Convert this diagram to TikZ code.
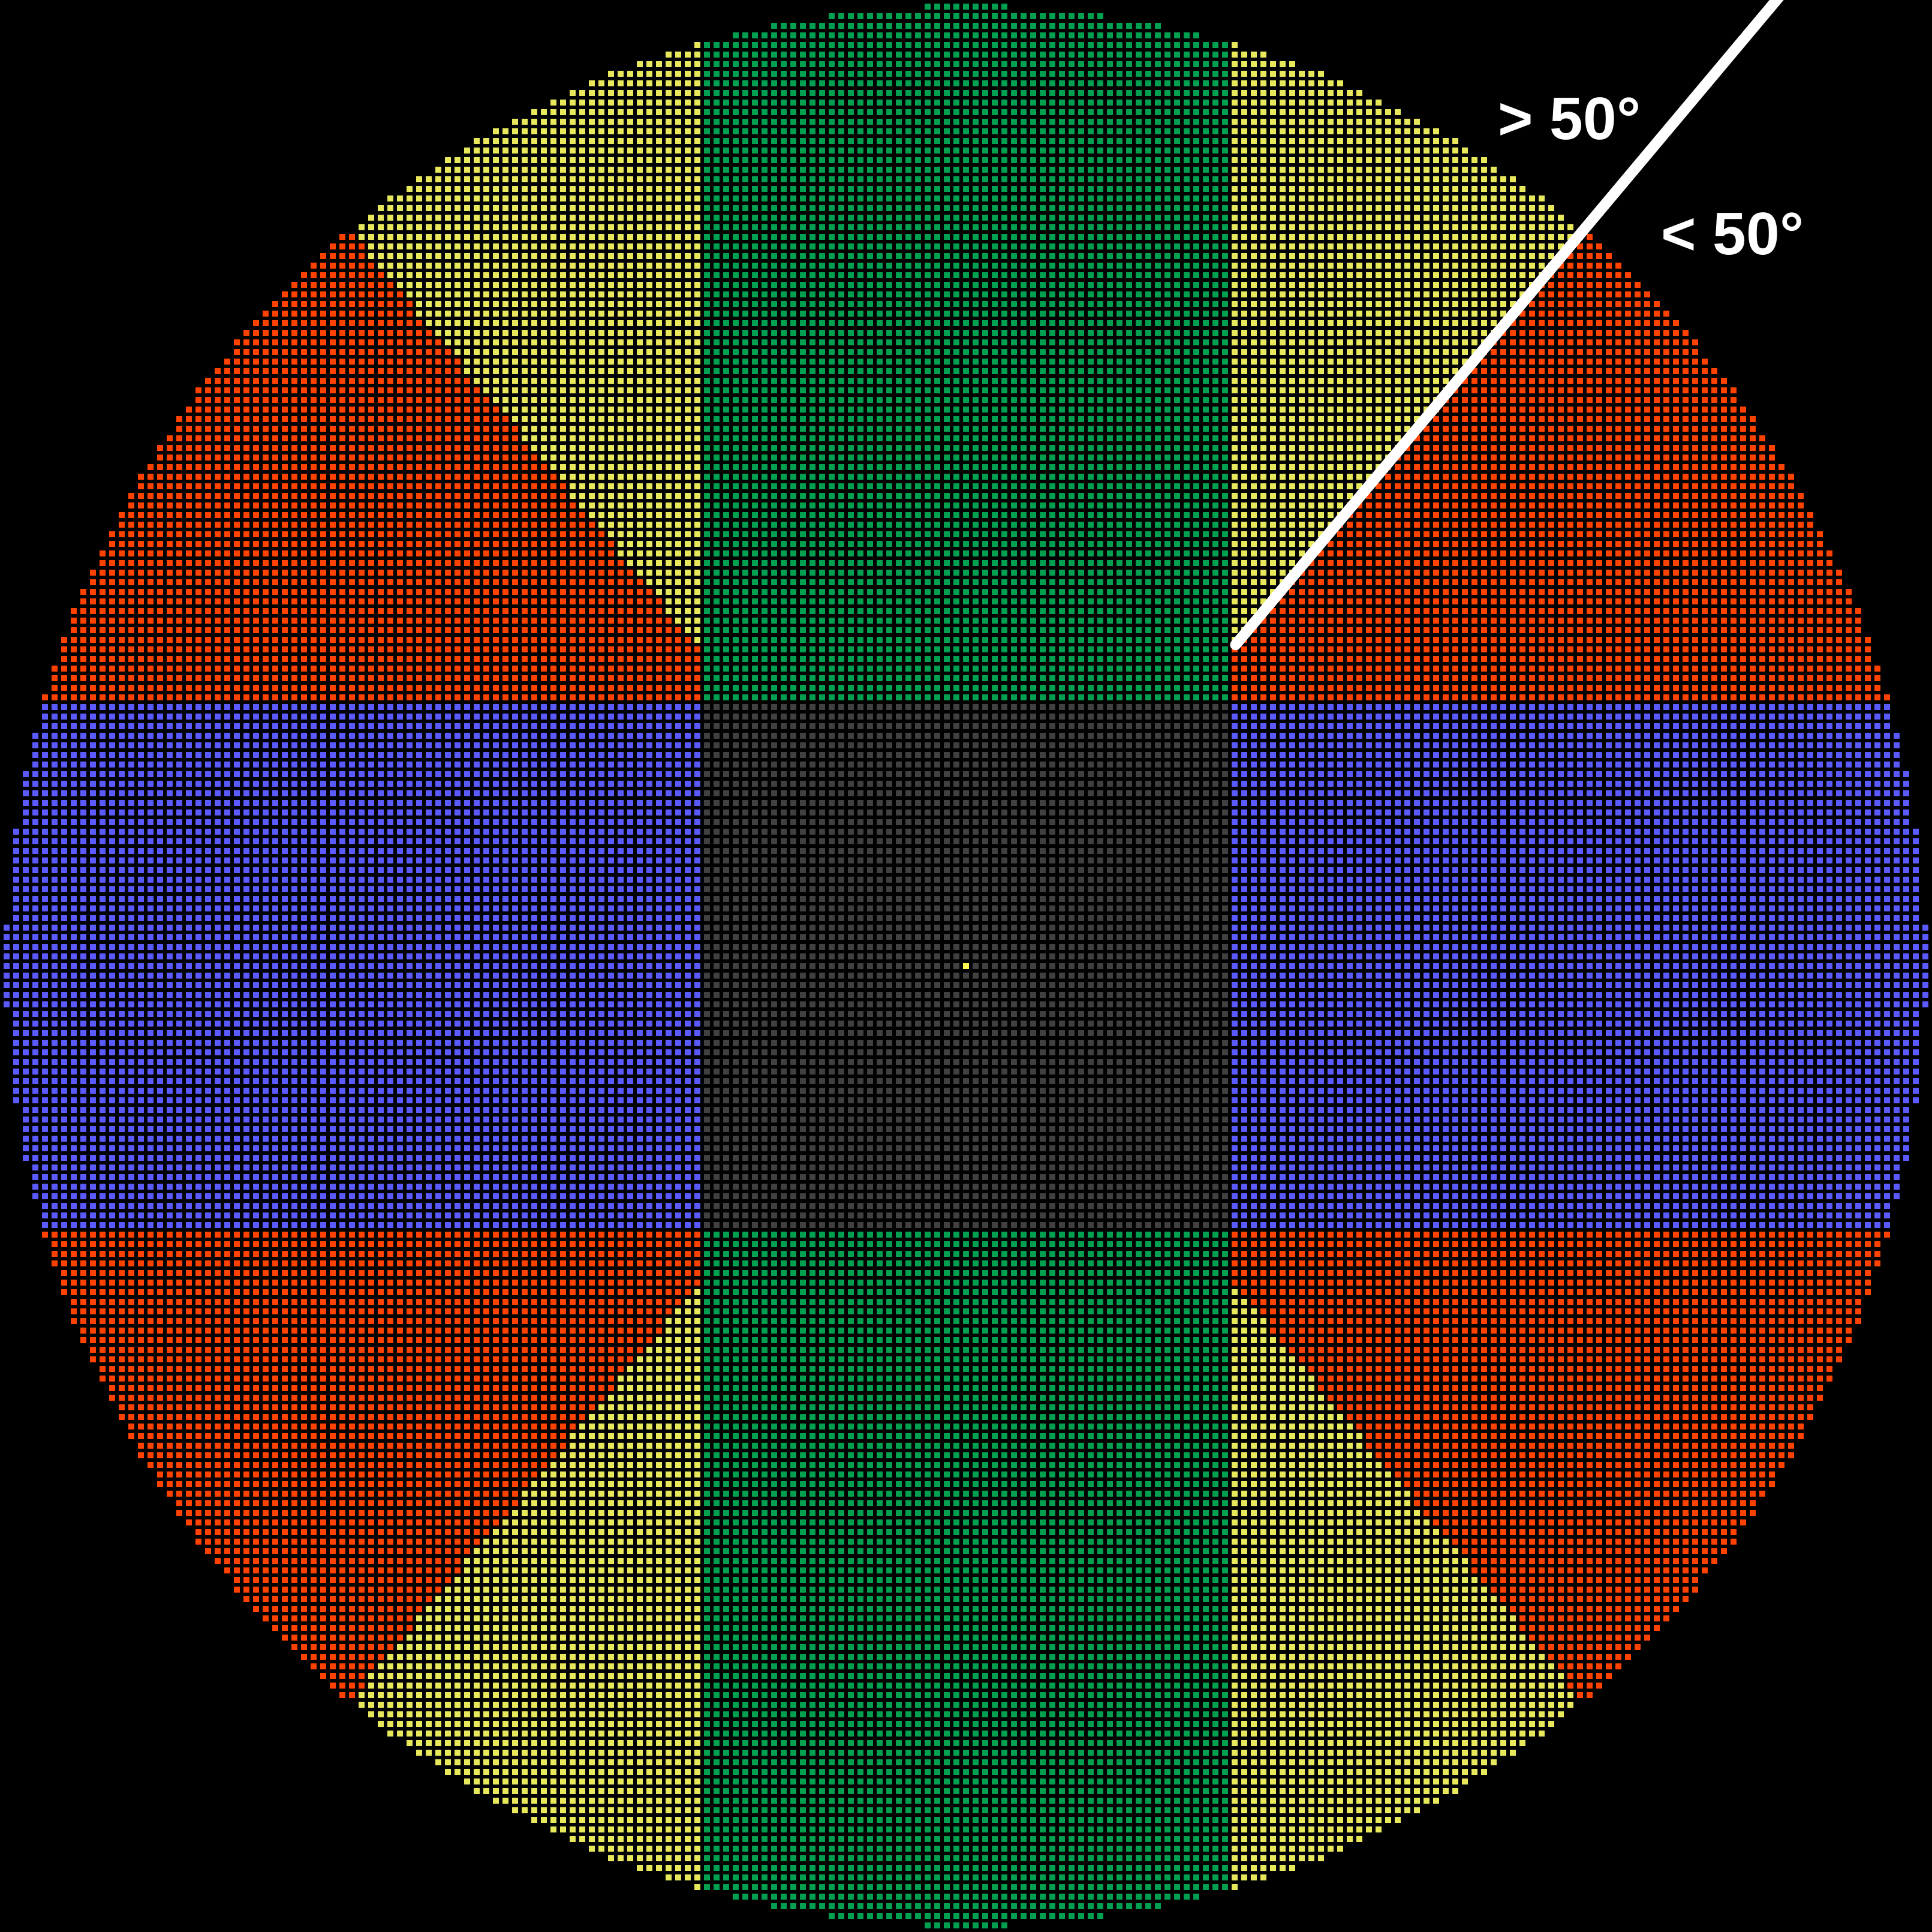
\documentclass[tikz,border=0pt]{standalone}
\usepackage{fontspec}
\setmainfont{Liberation Sans}
\usetikzlibrary{positioning}
\definecolor{cellorange}{RGB}{255,66,0}
\definecolor{cellyellow}{RGB}{232,232,92}
\definecolor{cellgreen}{RGB}{0,160,80}
\definecolor{cellblue}{RGB}{90,90,255}
\definecolor{cellgray}{RGB}{64,64,64}
\definecolor{centeryellow}{RGB}{250,250,80}

\begin{document}
\begin{tikzpicture}[
  x=0.16cm, y=0.16cm,
  gap/.style={draw=black, line width=0.06cm},
  ray/.style={draw=white, line width=0.18cm, line cap=round},
  angletext/.style={text=white, font=\bfseries\fontsize{28.5}{28.5}\selectfont, inner sep=0pt}
]
  \clip (-100.6875,-100.6875) rectangle (100.6875,100.6875);
  \fill[black] (-100.6875,-100.6875) rectangle (100.6875,100.6875);
  % one row of cells at a time
  \foreach \j in {-100,...,100}{
    \pgfmathtruncatemacro\m{floor(sqrt(10020-\j*\j))}
    \pgfmathtruncatemacro\a{abs(\j)}
    \pgfmathtruncatemacro\k{min(floor(\a/tan(50)),\m)}
    \pgfmathtruncatemacro\c{min(27,\m)}
    \ifnum\a>27
      \fill[cellorange] (-\m-0.5,\j-0.5) rectangle (\m+0.5,\j+0.5);
      \ifnum\k>27
        \fill[cellyellow] (-\k-0.5,\j-0.5) rectangle (\k+0.5,\j+0.5);
      \fi
      \fill[cellgreen] (-\c-0.5,\j-0.5) rectangle (\c+0.5,\j+0.5);
    \else
      \fill[cellblue] (-\m-0.5,\j-0.5) rectangle (\m+0.5,\j+0.5);
      \fill[cellgray] (-27.5,\j-0.5) rectangle (27.5,\j+0.5);
    \fi
  }
  \fill[centeryellow] (-0.5,-0.5) rectangle (0.5,0.5);
  % black gaps between the cells
  \foreach \i in {-100,...,101}{
    \draw[gap] (\i-0.5,-101) -- (\i-0.5,101);
    \draw[gap] (-101,\i-0.5) -- (101,\i-0.5);
  }
  \coordinate (raystart) at (50:43.7);
  \coordinate (rayend) at (50:140);
  \draw[ray] (raystart) -- (rayend);
  \node[angletext] (above50) at (62.9,88.3) {> 50°};
  \node[angletext] (below50) at (79.9,76.3) {< 50°};
\end{tikzpicture}
\end{document}
